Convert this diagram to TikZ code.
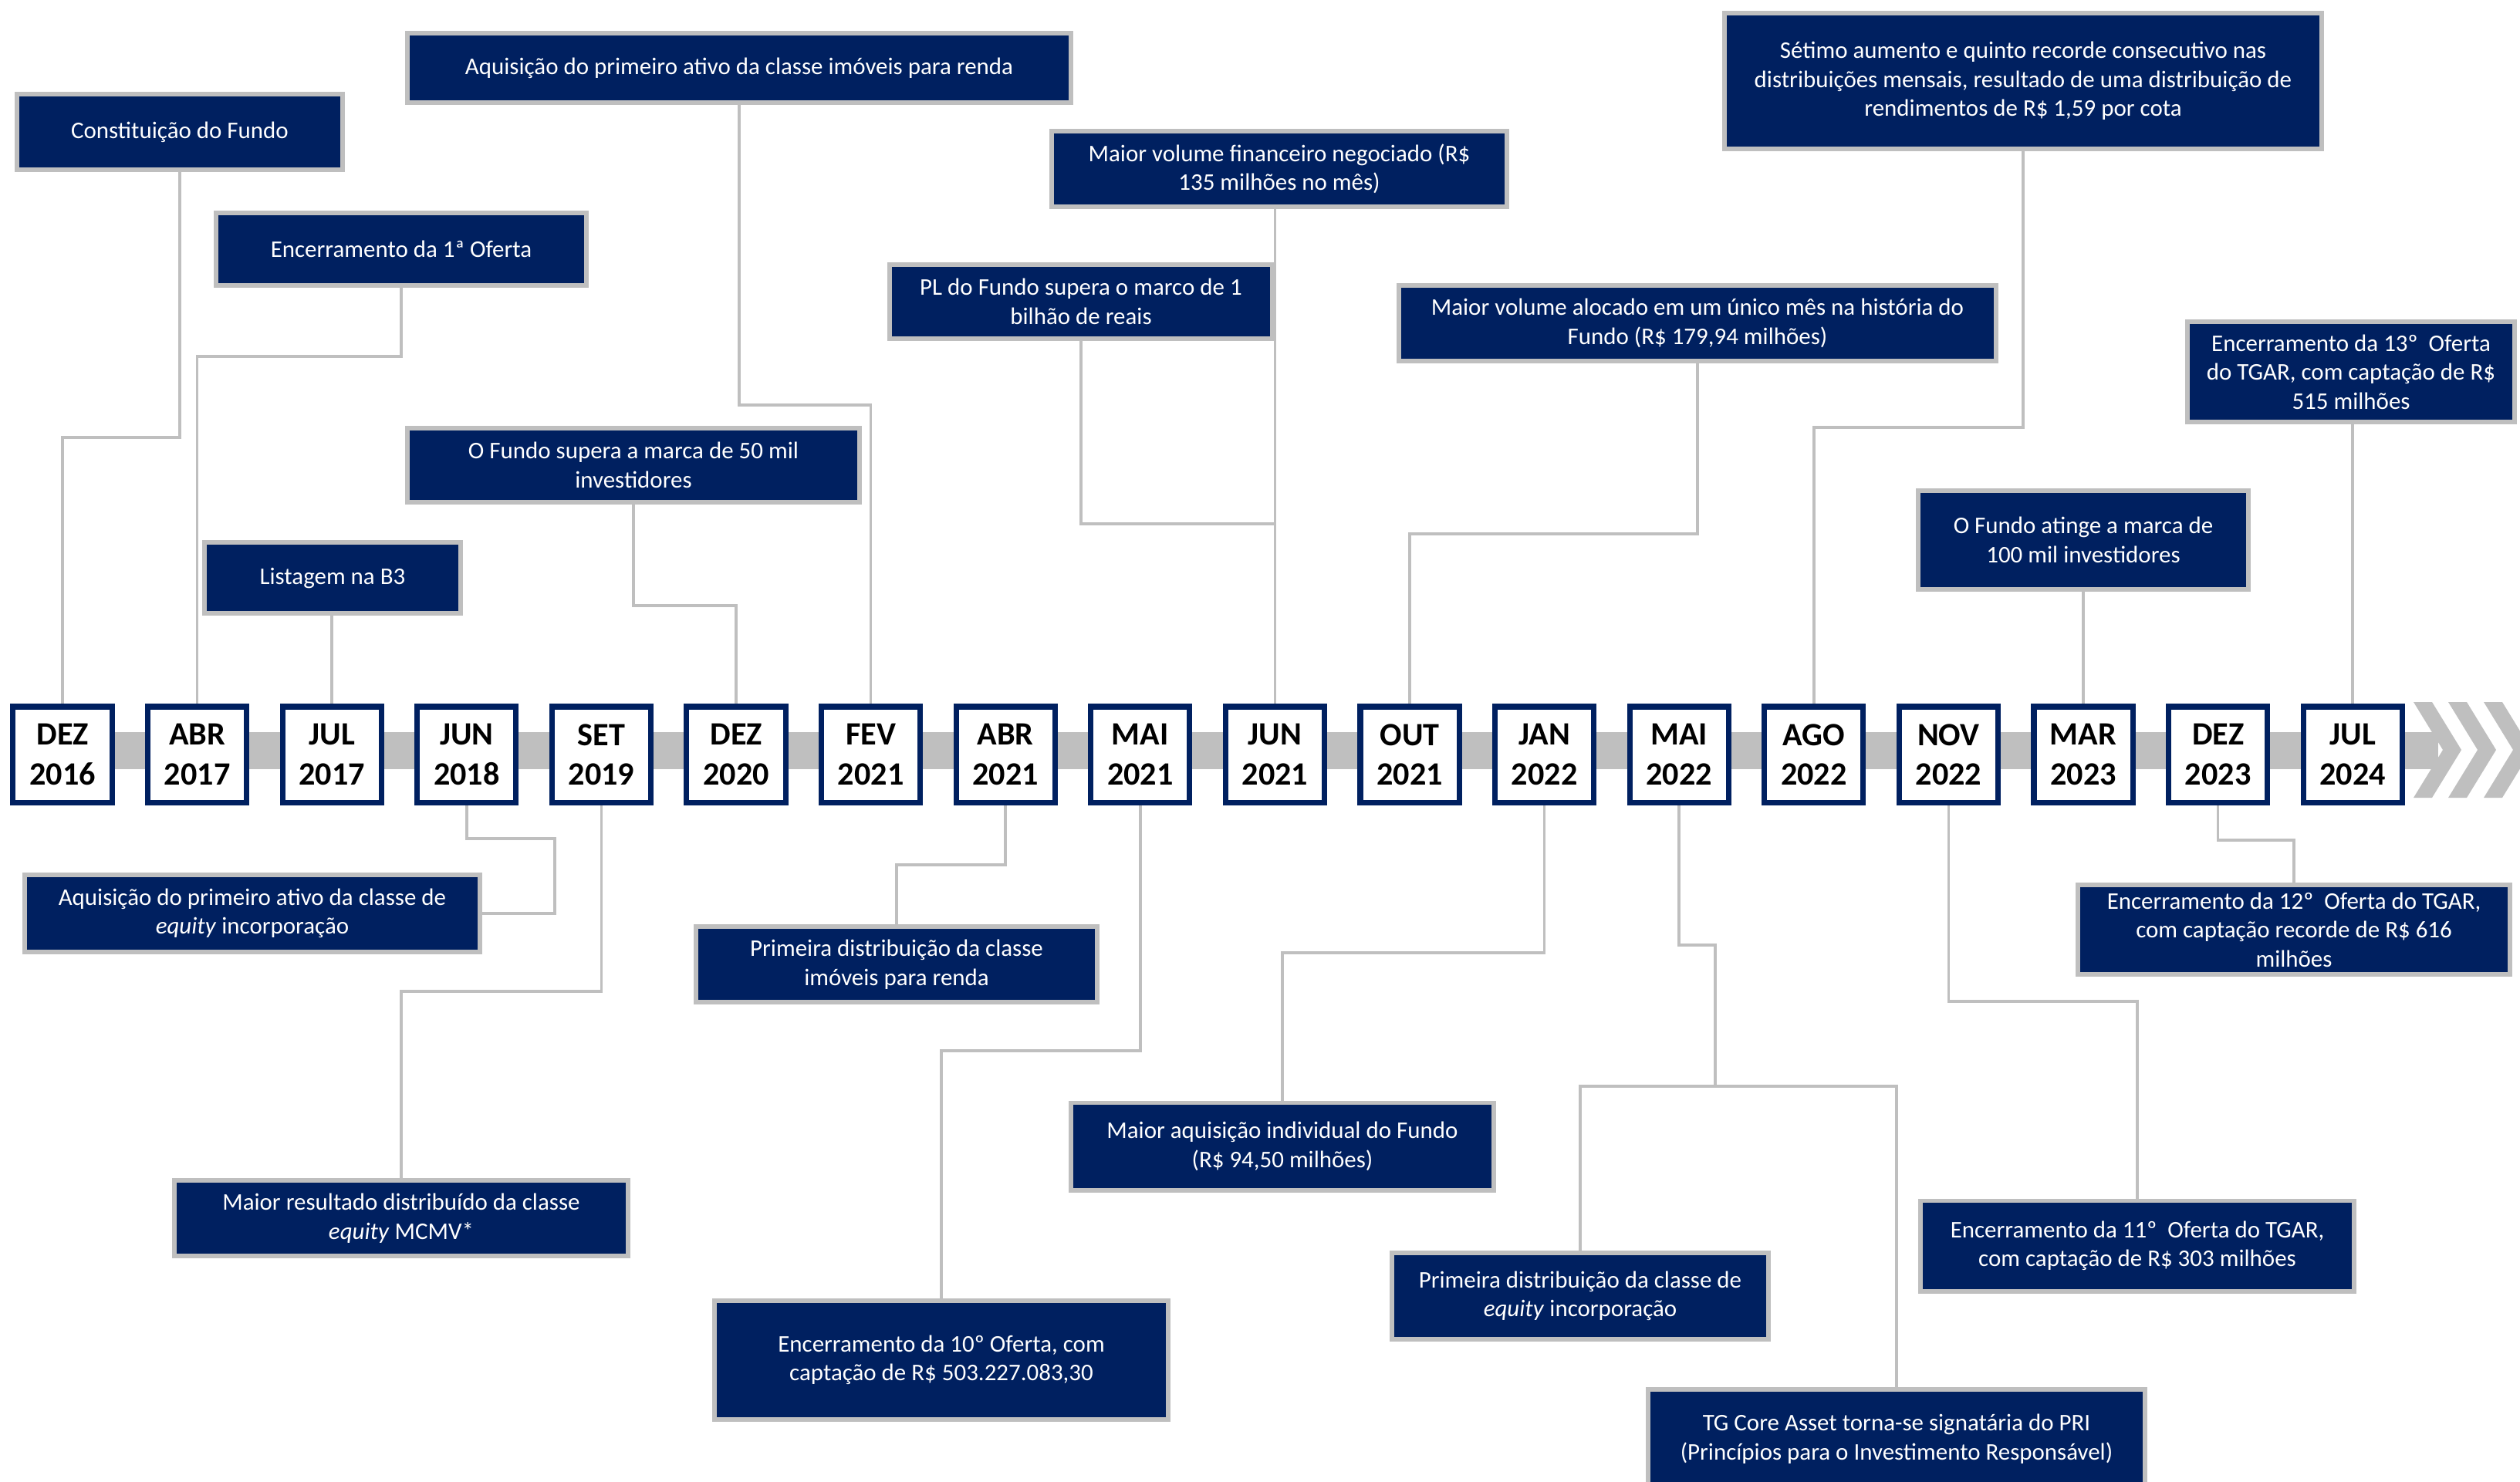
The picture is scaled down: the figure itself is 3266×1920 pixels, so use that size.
\documentclass[tikz,border=0pt]{standalone}
\usepackage{fontspec}
\setmainfont{Carlito}
\usetikzlibrary{backgrounds}
\definecolor{navy}{HTML}{002060}
\definecolor{barGray}{HTML}{BFBFBF}

\tikzset{
  datebox/.style={draw=navy,line width=2pt,fill=white,inner sep=0pt,
    minimum width=1.28cm,minimum height=1.24cm,align=center,
    font=\fontsize{12}{14.6}\selectfont\bfseries},
  evbox/.style={draw=barGray,line width=1.7pt,fill=navy,text=white,
    inner sep=0pt,align=center,font=\fontsize{8.8}{10.7}\selectfont},
  link/.style={draw=barGray,line width=1pt},
}

\begin{document}
\begin{tikzpicture}[x=0.01cm,y=-0.01cm,line join=miter]
  \useasboundingbox (0,0) rectangle (3266,1920);
  \clip (0,0) rectangle (3266,1920);

  % ---- dates on the time line ------------------------------------------
  \foreach \mon/\yr [count=\i] in {DEZ/2016,ABR/2017,JUL/2017,JUN/2018,
      SET/2019,DEZ/2020,FEV/2021,ABR/2021,MAI/2021,JUN/2021,OUT/2021,
      JAN/2022,MAI/2022,AGO/2022,NOV/2022,MAR/2023,DEZ/2023,JUL/2024}
    \node[datebox] (d\i) at ({81+174.6*(\i-1)},978) {\mon\\\yr};

  % ---- events above the line -------------------------------------------
  \node[evbox,minimum width=4.21cm,minimum height=0.98cm] (e1) at (233,171)
    {Constituição do Fundo};
  \node[evbox,minimum width=4.79cm,minimum height=0.94cm] (e2) at (520,323)
    {Encerramento da 1ª Oferta};
  \node[evbox,minimum width=3.32cm,minimum height=0.92cm] (e3) at (431,749)
    {Listagem na B3};
  \node[evbox,minimum width=8.60cm,minimum height=0.89cm] (e4) at (958,88)
    {Aquisição do primeiro ativo da classe imóveis para renda};
  \node[evbox,minimum width=5.85cm,minimum height=0.96cm] (e5) at (821,603)
    {O Fundo supera a marca de 50 mil\\investidores};
  \node[evbox,minimum width=5.90cm,minimum height=0.98cm] (e6) at (1658,219)
    {Maior volume financeiro negociado (R\$\\135 milhões no mês)};
  \node[evbox,minimum width=4.96cm,minimum height=0.96cm] (e7) at (1401,391)
    {PL do Fundo supera o marco de 1\\bilhão de reais};
  \node[evbox,minimum width=7.73cm,minimum height=0.98cm] (e8) at (2200,419)
    {Maior volume alocado em um único mês na história do\\Fundo (R\$ 179,94 milhões)};
  \node[evbox,minimum width=7.73cm,minimum height=1.75cm] (e9) at (2622,105)
    {Sétimo aumento e quinto recorde consecutivo nas\\distribuições mensais, resultado de uma distribuição de\\rendimentos de R\$ 1,59 por cota};
  \node[evbox,minimum width=4.23cm,minimum height=1.29cm] (e10) at (3047,482)
    {Encerramento da 13º~~Oferta\\do TGAR, com captação de R\$\\515 milhões};
  \node[evbox,minimum width=4.27cm,minimum height=1.28cm] (e11) at (2700,700)
    {O Fundo atinge a marca de\\100 mil investidores};

  % ---- events below the line -------------------------------------------
  \node[evbox,minimum width=5.90cm,minimum height=1.00cm] (e12) at (327,1184)
    {Aquisição do primeiro ativo da classe de\\\textit{equity} incorporação};
  \node[evbox,minimum width=5.19cm,minimum height=0.98cm] (e13) at (1162,1250)
    {Primeira distribuição da classe\\imóveis para renda};
  \node[evbox,minimum width=5.88cm,minimum height=0.98cm] (e14) at (520,1579)
    {Maior resultado distribuído da classe\\\textit{equity} MCMV*};
  \node[evbox,minimum width=5.87cm,minimum height=1.54cm] (e15) at (1220,1763)
    {Encerramento da 10º Oferta, com\\captação de R\$ 503.227.083,30};
  \node[evbox,minimum width=5.48cm,minimum height=1.13cm] (e16) at (1662,1486)
    {Maior aquisição individual do Fundo\\(R\$ 94,50 milhões)};
  \node[evbox,minimum width=4.87cm,minimum height=1.12cm] (e17) at (2048,1680)
    {Primeira distribuição da classe de\\\textit{equity} incorporação};
  \node[evbox,minimum width=6.44cm,minimum height=1.28cm] (e18) at (2458,1865)
    {TG Core Asset torna-se signatária do PRI\\(Princípios para o Investimento Responsável)};
  \node[evbox,minimum width=5.59cm,minimum height=1.16cm] (e19) at (2973,1205)
    {Encerramento da 12º~~Oferta do TGAR,\\com captação recorde de R\$ 616\\milhões};
  \node[evbox,minimum width=5.61cm,minimum height=1.17cm] (e20) at (2770,1615)
    {Encerramento da 11º~~Oferta do TGAR,\\com captação de R\$ 303 milhões};

  \coordinate (j17) at (2223,1408);

  \begin{pgfonlayer}{background}
    % ---- grey bar and chevrons -----------------------------------------
    \fill[barGray] (81,949) rectangle (3160,997);
    \foreach \cx in {3128,3173,3219}
      \fill[barGray] (\cx,910) -- ++(24,0) -- ++(38,62) -- ++(-38,62)
        -- ++(-24,0) -- ++(38,-62) -- cycle;

    % ---- connectors above ----------------------------------------------
    \draw[link] (e1.south) -- (e1.south |- 0,567) -| (d1.north);
    \draw[link] (e2.south) -- (e2.south |- 0,462) -| (d2.north);
    \draw[link] (d3.north) -- (d3.north |- e3.south);
    \draw[link] (e4.south) -- (e4.south |- 0,525) -| (d7.north);
    \draw[link] (e5.south) -- (e5.south |- 0,785) -| (d6.north);
    \draw[link] (d10.north) -- (d10.north |- e6.south);
    \draw[link] (e7.south) |- (d10.north |- 0,679);
    \draw[link] (e8.south) -- (e8.south |- 0,692) -| (d11.north);
    \draw[link] (e9.south) -- (e9.south |- 0,554) -| (d14.north);
    \draw[link] (d18.north) -- (d18.north |- e10.south);
    \draw[link] (d16.north) -- (d16.north |- e11.south);

    % ---- connectors below ----------------------------------------------
    \draw[link] (d4.south) |- (719,1087) |- (e12.east);
    \draw[link] (d8.south) -- (d8.south |- 0,1121) -| (e13.north);
    \draw[link] (d5.south) -- (d5.south |- 0,1285) -| (e14.north);
    \draw[link] (d9.south) -- (d9.south |- 0,1362) -| (e15.north);
    \draw[link] (d12.south) -- (d12.south |- 0,1235) -| (e16.north);
    \draw[link] (d13.south) |- (j17 |- 0,1225) -- (j17) -| (e17.north);
    \draw[link] (j17) -| (e18.north);
    \draw[link] (d17.south) -- (d17.south |- 0,1089) -| (e19.north);
    \draw[link] (d15.south) -- (d15.south |- 0,1298) -| (e20.north);
  \end{pgfonlayer}
\end{tikzpicture}
\end{document}
